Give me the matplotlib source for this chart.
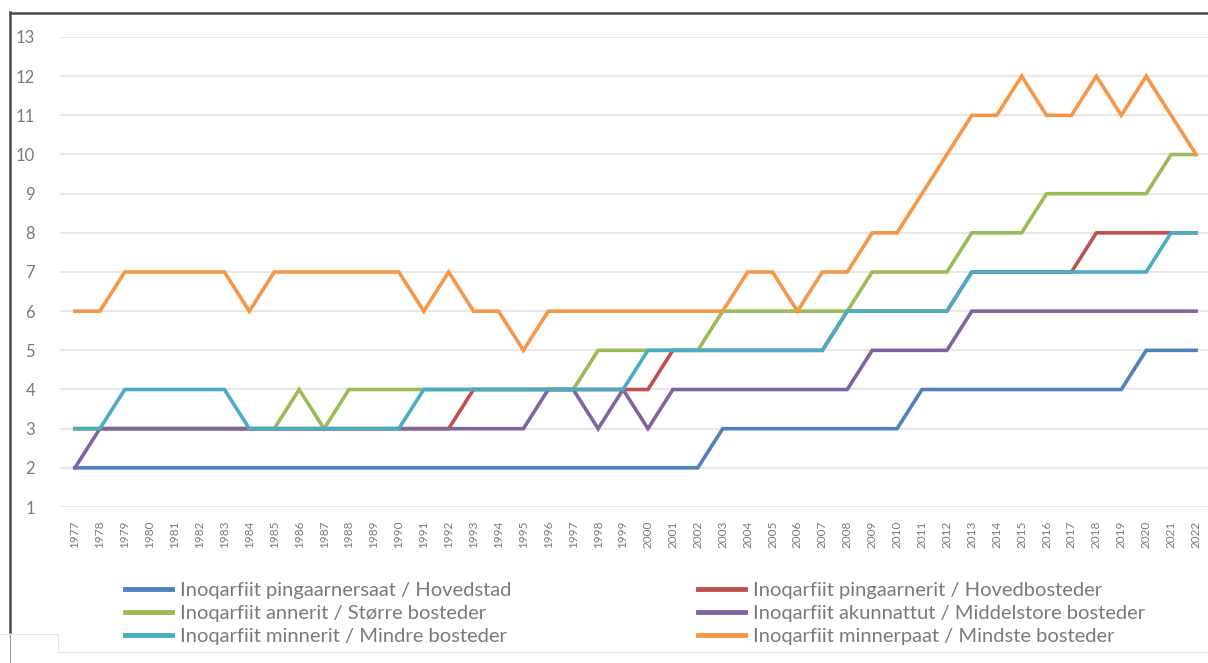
import matplotlib.pyplot as plt
from matplotlib.lines import Line2D

years = list(range(1977, 2023))

hovedstad = [2, 2, 2, 2, 2, 2, 2, 2, 2, 2, 2, 2, 2, 2, 2, 2, 2, 2, 2, 2,
             2, 2, 2, 2, 2, 2, 3, 3, 3, 3, 3, 3, 3, 3, 4, 4, 4, 4, 4, 4,
             4, 4, 4, 5, 5, 5]
hovedbosteder = [3, 3, 3, 3, 3, 3, 3, 3, 3, 3, 3, 3, 3, 3, 3, 3, 4, 4, 4, 4,
                 4, 4, 4, 4, 5, 5, 5, 5, 5, 5, 5, 6, 6, 6, 6, 6, 7, 7, 7, 7,
                 7, 8, 8, 8, 8, 8]
stoerre = [3, 3, 3, 3, 3, 3, 3, 3, 3, 4, 3, 4, 4, 4, 4, 4, 4, 4, 4, 4,
           4, 5, 5, 5, 5, 5, 6, 6, 6, 6, 6, 6, 7, 7, 7, 7, 8, 8, 8, 9,
           9, 9, 9, 9, 10, 10]
middelstore = [2, 3, 3, 3, 3, 3, 3, 3, 3, 3, 3, 3, 3, 3, 3, 3, 3, 3, 3, 4,
               4, 3, 4, 3, 4, 4, 4, 4, 4, 4, 4, 4, 5, 5, 5, 5, 6, 6, 6, 6,
               6, 6, 6, 6, 6, 6]
mindre = [3, 3, 4, 4, 4, 4, 4, 3, 3, 3, 3, 3, 3, 3, 4, 4, 4, 4, 4, 4,
          4, 4, 4, 5, 5, 5, 5, 5, 5, 5, 5, 6, 6, 6, 6, 6, 7, 7, 7, 7,
          7, 7, 7, 7, 8, 8]
mindste = [6, 6, 7, 7, 7, 7, 7, 6, 7, 7, 7, 7, 7, 7, 6, 7, 6, 6, 5, 6,
           6, 6, 6, 6, 6, 6, 6, 7, 7, 6, 7, 7, 8, 8, 9, 10, 11, 11, 12, 11,
           11, 12, 11, 12, 11, 10]

labels = ["Inoqarfiit pingaarnersaat / Hovedstad",
          "Inoqarfiit pingaarnerit / Hovedbosteder",
          "Inoqarfiit annerit / Større bosteder",
          "Inoqarfiit akunnattut / Middelstore bosteder",
          "Inoqarfiit minnerit / Mindre bosteder",
          "Inoqarfiit minnerpaat / Mindste bosteder"]
series = [hovedstad, hovedbosteder, stoerre, middelstore, mindre, mindste]
colors = ["#4F81BD", "#C0504D", "#9BBB59", "#8064A2", "#4BACC6", "#F79646"]

plt.rcParams['font.family'] = ['Lato', 'DejaVu Sans']
txt_color = "#7a7a7a"

W, H = 1208, 663
fig = plt.figure(figsize=(W / 100, H / 100), dpi=100)
ax = fig.add_axes([60 / W, 1 - 507 / H, (W - 60) / W, (507 - 37) / H])

lines = []
for vals, lab, col in zip(series, labels, colors):
    ln, = ax.plot(years, vals, color=col, lw=2.6, label=lab,
                  solid_joinstyle='miter')
    lines.append(ln)

ax.set_xlim(1976.4, 2022.48)
ax.set_ylim(1, 13)
ax.set_yticks(range(1, 14))
ax.set_xticks(years)
ax.set_xticklabels([str(y) for y in years], rotation=90, fontsize=8.5,
                   color=txt_color, va='top')
ax.tick_params(axis='y', length=0, pad=18, labelsize=12, labelcolor=txt_color)
ax.tick_params(axis='x', length=0, pad=10)
ax.yaxis.grid(True, color='#e3e3e3', lw=1.2)
ax.set_axisbelow(True)
for s in ax.spines.values():
    s.set_visible(False)

# legend in two separate columns
leg_kw = dict(frameon=False, fontsize=14.5, labelcolor=txt_color,
              handlelength=2.35, handletextpad=0.4, labelspacing=0.29,
              borderaxespad=0, borderpad=0, loc='upper left')
leg1 = fig.legend([lines[0], lines[2], lines[4]],
                  [labels[0], labels[2], labels[4]],
                  bbox_to_anchor=(125 / W, 1 - 582 / H), **leg_kw)
leg2 = fig.legend([lines[1], lines[3], lines[5]],
                  [labels[1], labels[3], labels[5]],
                  bbox_to_anchor=(698 / W, 1 - 582 / H), **leg_kw)
for lg in (leg1, leg2):
    for h in lg.legend_handles:
        h.set_linewidth(3.5)

# screenshot frame
fig.add_artist(Line2D([10 / W, 1], [1 - 12.5 / H] * 2, color='#4a4a4a', lw=1.8))
fig.add_artist(Line2D([10 / W] * 2, [1 - 12 / H, 1 - 633 / H], color='#4a4a4a', lw=1.8))
fig.add_artist(Line2D([10 / W] * 2, [1 - 633 / H, 0], color='#9a9a9a', lw=0.8))
fig.add_artist(Line2D([0, 58 / W], [1 - 634 / H] * 2, color='#e6e6e6', lw=0.8))
fig.add_artist(Line2D([58 / W] * 2, [1 - 634 / H, 1 - 652 / H], color='#e6e6e6', lw=0.8))
fig.add_artist(Line2D([58 / W, 1], [1 - 652 / H] * 2, color='#e6e6e6', lw=0.8))

fig.savefig("out.png", dpi=100)
